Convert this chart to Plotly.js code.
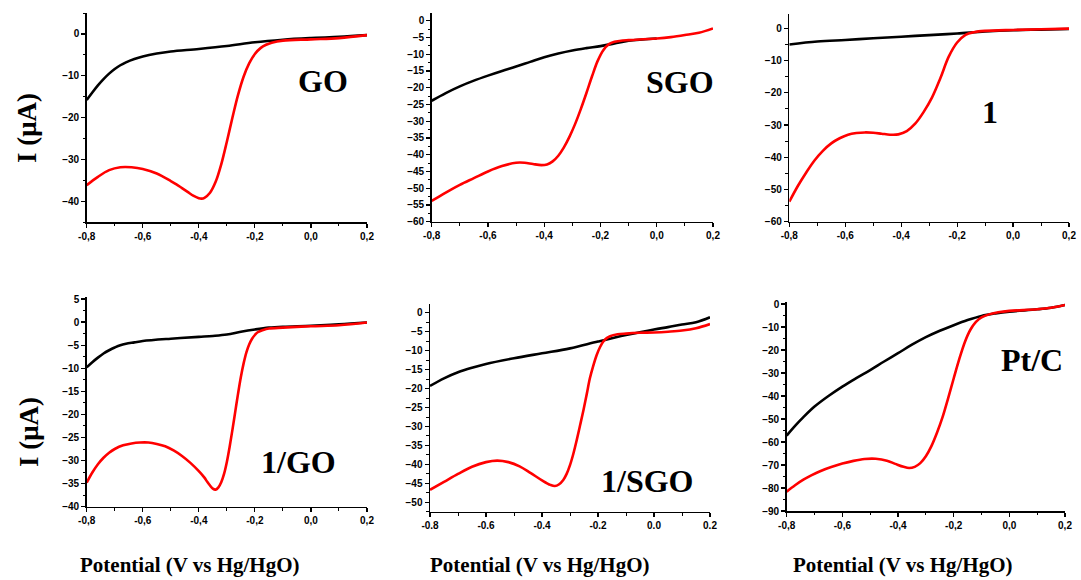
<!DOCTYPE html>
<html><head><meta charset="utf-8">
<script src="https://cdn.plot.ly/plotly-3.0.1.min.js"></script>
<style>html,body{margin:0;padding:0;background:#fff}#chart{width:1081px;height:580px}</style>
</head><body><div id="chart"></div>
<script>
// ---- data (potential V vs Hg/HgO, current µA) ----
const panelNames = ['GO', 'SGO', '1', '1/GO', '1/SGO', 'Pt/C'];
const xTickVals = [-0.8, -0.6, -0.4, -0.2, 0.0, 0.2];
const xTickComma = ['-0,8', '-0,6', '-0,4', '-0,2', '0,0', '0,2'];
const xTickDot = ['-0.8', '-0.6', '-0.4', '-0.2', '0.0', '0.2'];

const goBlackX = [-0.8, -0.78, -0.76, -0.74, -0.72, -0.7, -0.68, -0.66, -0.63, -0.6, -0.55, -0.5, -0.4, -0.3, -0.2, -0.1, 0.0, 0.1, 0.2];
const goBlackY = [-15.8, -14.0, -12.3, -10.8, -9.5, -8.4, -7.5, -6.8, -6.0, -5.4, -4.7, -4.2, -3.6, -2.9, -2.0, -1.4, -1.0, -0.7, -0.3];
const goRedX = [-0.8, -0.76, -0.72, -0.68, -0.64, -0.6, -0.55, -0.5, -0.48, -0.46, -0.44, -0.42, -0.4, -0.39, -0.38, -0.36, -0.34, -0.32, -0.3, -0.28, -0.26, -0.24, -0.22, -0.2, -0.18, -0.16, -0.14, -0.1, 0.0, 0.1, 0.2];
const goRedY = [-36.2, -34.2, -32.6, -31.9, -31.9, -32.3, -33.4, -35.2, -36.0, -36.9, -37.8, -38.7, -39.3, -39.4, -39.2, -38.0, -35.4, -31.2, -25.8, -20.0, -14.6, -10.2, -7.0, -4.8, -3.4, -2.6, -2.1, -1.6, -1.3, -1.0, -0.3];

const sgoBlackX = [-0.8, -0.75, -0.7, -0.65, -0.6, -0.55, -0.5, -0.45, -0.4, -0.35, -0.3, -0.25, -0.2, -0.15, -0.1, -0.05, 0.0];
const sgoBlackY = [-23.9, -21.6, -19.6, -17.9, -16.4, -15.0, -13.7, -12.3, -10.9, -9.8, -8.9, -8.2, -7.6, -6.8, -6.0, -5.6, -5.3];
const sgoRedX = [-0.8, -0.75, -0.7, -0.65, -0.6, -0.55, -0.5, -0.47, -0.44, -0.41, -0.39, -0.37, -0.35, -0.33, -0.31, -0.29, -0.27, -0.25, -0.23, -0.21, -0.19, -0.17, -0.15, -0.12, -0.1, 0.0, 0.05, 0.1, 0.15, 0.2];
const sgoRedY = [-53.8, -51.3, -49.0, -47.0, -45.0, -43.4, -42.4, -42.4, -42.8, -43.1, -42.9, -42.0, -40.3, -37.8, -34.6, -30.8, -26.4, -21.6, -16.6, -12.0, -8.8, -7.0, -6.3, -5.9, -5.8, -5.3, -4.9, -4.3, -3.6, -2.3];

const oneBlackX = [-0.8, -0.7, -0.6, -0.5, -0.4, -0.3, -0.2, -0.1, 0.0, 0.1, 0.2];
const oneBlackY = [-5.0, -4.1, -3.6, -3.1, -2.6, -2.1, -1.6, -1.0, -0.6, -0.4, -0.2];
const oneRedX = [-0.8, -0.77, -0.74, -0.71, -0.68, -0.65, -0.62, -0.59, -0.56, -0.53, -0.5, -0.47, -0.44, -0.41, -0.38, -0.35, -0.32, -0.29, -0.26, -0.23, -0.2, -0.17, -0.14, -0.1, 0.0, 0.1, 0.2];
const oneRedY = [-53.8, -49.0, -44.8, -41.0, -38.0, -35.7, -34.1, -33.0, -32.5, -32.3, -32.4, -32.7, -33.0, -32.9, -31.9, -29.6, -26.0, -21.5, -15.5, -8.8, -4.4, -2.0, -1.2, -0.8, -0.5, -0.3, -0.1];

const oneGoBlackX = [-0.8, -0.78, -0.76, -0.74, -0.72, -0.7, -0.68, -0.66, -0.63, -0.6, -0.5, -0.4, -0.35, -0.3, -0.25, -0.2, -0.15, -0.1, 0.0, 0.1, 0.2];
const oneGoBlackY = [-9.8, -8.7, -7.7, -6.8, -6.1, -5.5, -5.0, -4.7, -4.4, -4.1, -3.6, -3.2, -3.0, -2.7, -2.1, -1.6, -1.2, -1.0, -0.8, -0.5, -0.1];
const oneGoRedX = [-0.8, -0.78, -0.76, -0.74, -0.72, -0.7, -0.67, -0.64, -0.61, -0.58, -0.55, -0.52, -0.49, -0.46, -0.43, -0.4, -0.38, -0.37, -0.36, -0.35, -0.34, -0.33, -0.32, -0.31, -0.3, -0.29, -0.28, -0.27, -0.26, -0.25, -0.24, -0.23, -0.22, -0.21, -0.2, -0.19, -0.17, -0.15, -0.1, 0.0, 0.1, 0.2];
const oneGoRedY = [-34.8, -32.6, -30.8, -29.4, -28.3, -27.5, -26.7, -26.3, -26.1, -26.1, -26.4, -26.9, -27.8, -29.0, -30.5, -32.3, -33.7, -34.6, -35.4, -36.1, -36.3, -35.8, -34.7, -32.9, -30.3, -27.0, -23.3, -19.4, -15.5, -11.9, -8.9, -6.5, -4.8, -3.6, -2.8, -2.2, -1.7, -1.4, -1.2, -0.9, -0.7, -0.1];

const oneSgoBlackX = [-0.8, -0.75, -0.7, -0.65, -0.6, -0.5, -0.4, -0.3, -0.2, -0.1, 0.0, 0.05, 0.1, 0.15, 0.2];
const oneSgoBlackY = [-19.3, -17.3, -15.7, -14.5, -13.5, -12.0, -10.7, -9.4, -7.6, -5.9, -4.4, -3.8, -3.1, -2.5, -1.2];
const oneSgoRedX = [-0.8, -0.75, -0.7, -0.65, -0.6, -0.56, -0.52, -0.48, -0.44, -0.4, -0.37, -0.354, -0.34, -0.324, -0.312, -0.3, -0.288, -0.276, -0.264, -0.252, -0.24, -0.229, -0.217, -0.205, -0.193, -0.181, -0.169, -0.157, -0.13, -0.1, -0.05, 0.0, 0.05, 0.1, 0.15, 0.2];
const oneSgoRedY = [-46.7, -44.6, -42.5, -40.6, -39.4, -39.0, -39.4, -40.5, -42.3, -44.2, -45.4, -45.7, -45.3, -44.1, -42.5, -40.2, -37.2, -33.6, -29.7, -25.7, -21.4, -17.3, -14.0, -11.2, -9.1, -7.6, -6.7, -6.2, -5.7, -5.5, -5.3, -5.2, -5.0, -4.7, -4.1, -3.0];

const ptBlackX = [-0.8, -0.77, -0.74, -0.7, -0.65, -0.6, -0.55, -0.5, -0.45, -0.4, -0.35, -0.3, -0.25, -0.2, -0.15, -0.1, -0.05, 0.0, 0.1, 0.15, 0.2];
const ptBlackY = [-57.2, -53.0, -49.2, -44.6, -40.0, -35.9, -32.2, -28.7, -25.0, -21.4, -17.7, -14.4, -11.6, -9.2, -7.0, -5.2, -4.1, -3.3, -2.3, -1.6, -0.4];
const ptRedX = [-0.8, -0.77, -0.74, -0.71, -0.68, -0.64, -0.6, -0.56, -0.52, -0.48, -0.44, -0.41, -0.38, -0.36, -0.34, -0.32, -0.3, -0.28, -0.26, -0.24, -0.22, -0.2, -0.18, -0.16, -0.14, -0.12, -0.1, -0.07, -0.04, 0.0, 0.1, 0.15, 0.2];
const ptRedY = [-81.6, -78.8, -76.4, -74.4, -72.7, -70.9, -69.4, -68.2, -67.4, -67.3, -68.1, -69.5, -70.8, -71.3, -70.8, -69.2, -66.2, -61.8, -56.0, -49.2, -41.0, -32.4, -24.0, -16.6, -11.2, -7.8, -5.8, -4.4, -3.6, -3.0, -2.3, -1.6, -0.4];

// ---- layout geometry ----
const W = 1081, H = 580;
const panels = [
  {bx: goBlackX, by: goBlackY, rx: goRedX, ry: goRedY, px: [86.7, 367], py: [13, 222], yr: [-45, 5], dt: 10, ttx: xTickComma},
  {bx: sgoBlackX, by: sgoBlackY, rx: sgoRedX, ry: sgoRedY, px: [431.7, 713], py: [13.3, 221.7], yr: [-60, 2.2], dt: 5, ttx: xTickComma},
  {bx: oneBlackX, by: oneBlackY, rx: oneRedX, ry: oneRedY, px: [789.3, 1069], py: [13.5, 221.7], yr: [-60, 4.6], dt: 10, ttx: xTickComma},
  {bx: oneGoBlackX, by: oneGoBlackY, rx: oneGoRedX, ry: oneGoRedY, px: [86.7, 367], py: [296.7, 506.7], yr: [-40, 5.5], dt: 5, ttx: xTickComma},
  {bx: oneSgoBlackX, by: oneSgoBlackY, rx: oneSgoRedX, ry: oneSgoRedY, px: [430, 710], py: [304, 511.8], yr: [-52.5, 2.3], dt: 5, ttx: xTickDot},
  {bx: ptBlackX, by: ptBlackY, rx: ptRedX, ry: ptRedY, px: [786.7, 1065], py: [301.7, 511], yr: [-90, 1], dt: 10, ttx: xTickComma}
];

const traces = [];
const layout = {
  width: W, height: H, margin: {l: 0, r: 0, t: 0, b: 0},
  paper_bgcolor: '#fff', plot_bgcolor: '#fff', showlegend: false,
  font: {family: 'Liberation Sans, Arial, sans-serif', color: '#000'},
  annotations: []
};
const tickFont = {family: 'Liberation Sans, Arial, sans-serif', size: 10, color: '#000', weight: 'bold'};

panels.forEach((p, i) => {
  const n = i + 1;
  const xa = 'x' + (n === 1 ? '' : n), ya = 'y' + (n === 1 ? '' : n);
  traces.push({x: p.bx, y: p.by, xaxis: xa, yaxis: ya, type: 'scatter', mode: 'lines',
    line: {color: '#000', width: 2.6, shape: 'spline', smoothing: 1}});
  traces.push({x: p.rx, y: p.ry, xaxis: xa, yaxis: ya, type: 'scatter', mode: 'lines',
    line: {color: '#ff0000', width: 2.6, shape: 'spline', smoothing: 1}});
  const xk = 'xaxis' + (n === 1 ? '' : n), yk = 'yaxis' + (n === 1 ? '' : n);
  layout[xk] = {
    domain: [p.px[0] / W, p.px[1] / W], range: [-0.8, 0.2], anchor: ya,
    tickmode: 'array', tickvals: xTickVals, ticktext: p.ttx,
    ticks: 'outside', ticklen: 4, tickwidth: 1.2, tickcolor: '#000',
    minor: {tickmode: 'linear', tick0: -0.8, dtick: 0.1, ticks: 'outside', ticklen: 2.5, tickwidth: 1, tickcolor: '#000'},
    showline: true, linecolor: '#000', linewidth: 1.5, showgrid: false, zeroline: false,
    tickfont: tickFont, fixedrange: true
  };
  layout[yk] = {
    domain: [1 - p.py[1] / H, 1 - p.py[0] / H], range: p.yr, anchor: xa,
    tickmode: 'linear', tick0: 0, dtick: p.dt,
    ticks: 'outside', ticklen: 4, tickwidth: 1.2, tickcolor: '#000',
    minor: {tickmode: 'linear', tick0: 0, dtick: p.dt / 2, ticks: 'outside', ticklen: 2.5, tickwidth: 1, tickcolor: '#000'},
    showline: true, linecolor: '#000', linewidth: 1.5, showgrid: false, zeroline: false,
    tickfont: tickFont, fixedrange: true
  };
});

// ---- text labels ----
const serifBold = {family: 'Liberation Serif, Times New Roman, serif', color: '#000', weight: 'bold'};
const labelPos = [[323, 81], [680, 82], [990, 112], [298, 462], [647, 481], [1032, 360]];
panelNames.forEach((t, i) => {
  layout.annotations.push({text: t, xref: 'paper', yref: 'paper', x: labelPos[i][0] / W, y: 1 - labelPos[i][1] / H,
    xanchor: 'center', yanchor: 'middle', showarrow: false, font: Object.assign({size: 32}, serifBold)});
});
[[27, 128], [29, 432]].forEach(([x, y]) => {
  layout.annotations.push({text: 'I (μA)', xref: 'paper', yref: 'paper', x: x / W, y: 1 - y / H, textangle: -90,
    xanchor: 'center', yanchor: 'middle', showarrow: false, font: Object.assign({size: 27}, serifBold)});
});
[190, 540, 903].forEach(x => {
  layout.annotations.push({text: 'Potential (V vs Hg/HgO)', xref: 'paper', yref: 'paper', x: x / W, y: 1 - 565 / H,
    xanchor: 'center', yanchor: 'middle', showarrow: false, font: Object.assign({size: 21}, serifBold)});
});

Plotly.newPlot('chart', traces, layout, {staticPlot: true, displayModeBar: false});
</script></body></html>
